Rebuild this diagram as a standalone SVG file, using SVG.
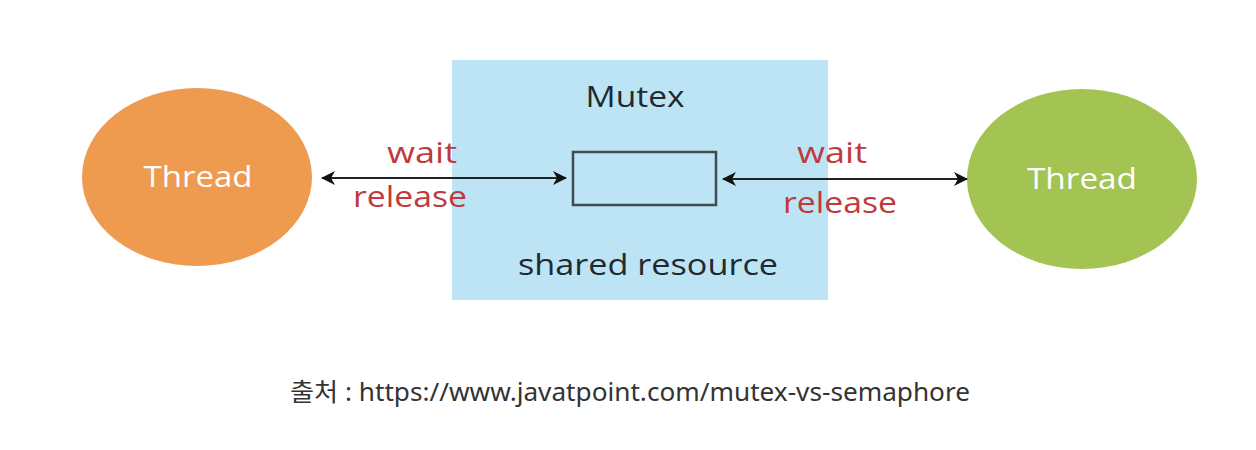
<svg xmlns="http://www.w3.org/2000/svg" width="1256" height="450" viewBox="0 0 1256 450">
<defs>
<style>
.thread{font-family:"Open Sans","DejaVu Sans",sans-serif;font-size:30px;font-weight:500;fill:#ffffff;text-anchor:middle}
.lbl{font-family:"Open Sans","DejaVu Sans",sans-serif;font-size:29px;font-weight:500;fill:#c0393b;text-anchor:middle}
.dark{font-family:"Open Sans","DejaVu Sans",sans-serif;font-size:29px;font-weight:500;fill:#1f2a30;text-anchor:middle}
.cap{font-family:"Noto Sans","Noto Sans CJK KR",sans-serif;font-size:25px;fill:#333333;text-anchor:middle}
.conn{stroke:#222;stroke-width:2.2;fill:none;marker-start:url(#ah);marker-end:url(#ah)}
</style>
<marker id="ah" viewBox="0 0 14 14" refX="13" refY="7" markerWidth="14" markerHeight="14" markerUnits="userSpaceOnUse" orient="auto-start-reverse">
<path d="M0,0 L14,7 L0,14 L4,7 Z" fill="#111"/>
</marker>
</defs>
<rect width="1256" height="450" fill="#ffffff"/>
<g id="mutex">
<rect x="452" y="60" width="376" height="240" fill="#bde4f4"/>
<text class="dark" x="635" y="107" textLength="99" lengthAdjust="spacingAndGlyphs">Mutex</text>
<rect x="573" y="152" width="143" height="53" fill="none" stroke="#3f4b50" stroke-width="2.5"/>
<text class="dark" x="648" y="275" textLength="260" lengthAdjust="spacingAndGlyphs">shared resource</text>
</g>
<g id="thread-left">
<ellipse cx="197" cy="177" rx="115" ry="89" fill="#ee9a4f"/>
<text class="thread" x="198" y="187" textLength="109" lengthAdjust="spacingAndGlyphs">Thread</text>
</g>
<g id="thread-right">
<ellipse cx="1082" cy="179" rx="115" ry="90" fill="#a3c453"/>
<text class="thread" x="1082" y="189" textLength="110" lengthAdjust="spacingAndGlyphs">Thread</text>
</g>
<g id="connectors">
<line class="conn" x1="322" y1="178" x2="566" y2="178"/>
<line class="conn" x1="723" y1="179" x2="967" y2="179"/>
<text class="lbl" x="422" y="163" textLength="70" lengthAdjust="spacingAndGlyphs">wait</text>
<text class="lbl" x="410" y="207" textLength="114" lengthAdjust="spacingAndGlyphs">release</text>
<text class="lbl" x="832" y="163" textLength="70" lengthAdjust="spacingAndGlyphs">wait</text>
<text class="lbl" x="840" y="213" textLength="114" lengthAdjust="spacingAndGlyphs">release</text>
</g>
<text class="cap" x="630" y="401" textLength="680" lengthAdjust="spacingAndGlyphs">출처 : https://www.javatpoint.com/mutex-vs-semaphore</text>
</svg>
